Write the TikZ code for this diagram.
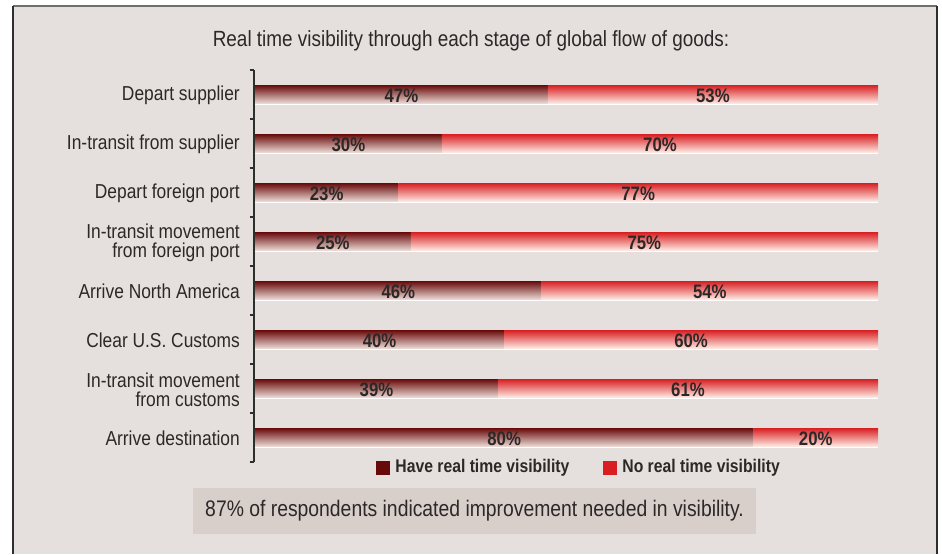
\documentclass[tikz,border=0pt]{standalone}
\usepackage{fontspec}
\setmainfont{Liberation Sans}[FakeStretch=0.86]
\usepackage{tikz}
\usetikzlibrary{positioning}
\usepackage{xcolor}
\definecolor{panelbg}{HTML}{E5E0DE}
\definecolor{notebg}{HTML}{D8CFCB}
\definecolor{framegray}{HTML}{6E6E6E}
\definecolor{framedark}{HTML}{2E2E2E}
\definecolor{ink}{HTML}{2C2828}
\definecolor{haveclr}{HTML}{680909}
\definecolor{havemid}{HTML}{A87A72}
\definecolor{havelow}{HTML}{F0E2DC}
\definecolor{noclr}{HTML}{D81E21}
\definecolor{nomid}{HTML}{EE8E78}
\definecolor{nolow}{HTML}{FFF1EA}
\tikzset{
  cat/.style={anchor=east,align=right,inner sep=0pt,text=ink,
    font=\fontsize{20.2}{18.8}\selectfont},
  pct/.style={inner sep=0pt,text=ink,font=\bfseries\fontsize{19.5}{18}\selectfont},
  havebar/.style={top color=haveclr,middle color=havemid,bottom color=havelow},
  nobar/.style={top color=noclr,middle color=nomid,bottom color=nolow},
  keybox/.style={minimum size=14pt,inner sep=0pt},
  legend/.style={inner sep=0pt,text=ink,font=\bfseries\fontsize{18.3}{18}\selectfont},
  tick/.style={framedark,line width=1.5pt}
}
\tikzstyle{note} = [fill=notebg,text=ink,minimum width=563pt,minimum height=46pt,
  inner sep=0pt,font=\fontsize{22.5}{22}\selectfont]

\begin{document}
\begin{tikzpicture}[x=1pt,y=-1pt]
  \useasboundingbox (0,0) rectangle (942,554);
  % panel and frame
  \fill[panelbg] (13,6) rectangle (937,554);
  \draw[framegray,line width=2pt] (13,6) -- (937,6);
  \draw[framedark,line width=1.5pt] (13,6) -- (13,554);
  \draw[framedark,line width=2pt] (937,6) -- (937,554);
  \node[text=ink,font=\fontsize{22}{22}\selectfont] (title) at (471,41)
    {Real time visibility through each stage of global flow of goods:};
  % bars
  \foreach \lbl/\have [count=\i] in {
      {Depart supplier}/47,
      {In-transit from supplier}/30,
      {Depart foreign port}/23,
      {In-transit movement\\from foreign port}/25,
      {Arrive North America}/46,
      {Clear U.S. Customs}/40,
      {In-transit movement\\from customs}/39,
      {Arrive destination}/80} {
    \pgfmathsetmacro{\yc}{45.5+49*\i}
    \pgfmathsetmacro{\xs}{255+6.23*\have}
    \pgfmathtruncatemacro{\no}{100-\have}
    \shade[havebar] (255,\yc-9.5) rectangle (\xs,\yc+9.5);
    \shade[nobar] (\xs,\yc-9.5) rectangle (878,\yc+9.5);
    \draw[white,line width=1pt] (255,\yc+10) -- (878,\yc+10);
    \node[cat] (cat\i) at (240,\yc+1) {\lbl};
    \node[pct] (have\i) at ({(255+\xs)/2},\yc+1) {\have\%};
    \node[pct] (no\i) at ({(\xs+878)/2},\yc+1) {\no\%};
  }
  % axis with ticks
  \draw[tick] (254,70) -- (254,462);
  \foreach \k in {0,...,8}
    \draw[tick] (249.5,70+49*\k) -- (254,70+49*\k);
  % legend
  \node[keybox,fill=haveclr] (havekey) at (383,468) {};
  \node[legend,right=5pt of havekey] (havetxt) {Have real time visibility};
  \node[keybox,fill=noclr] (nokey) at (610,468) {};
  \node[legend,right=5pt of nokey] (notxt) {No real time visibility};
  % note
  \node[note] (note) at (474.5,511)
    {87\% of respondents indicated improvement needed in visibility.};
\end{tikzpicture}
\end{document}
